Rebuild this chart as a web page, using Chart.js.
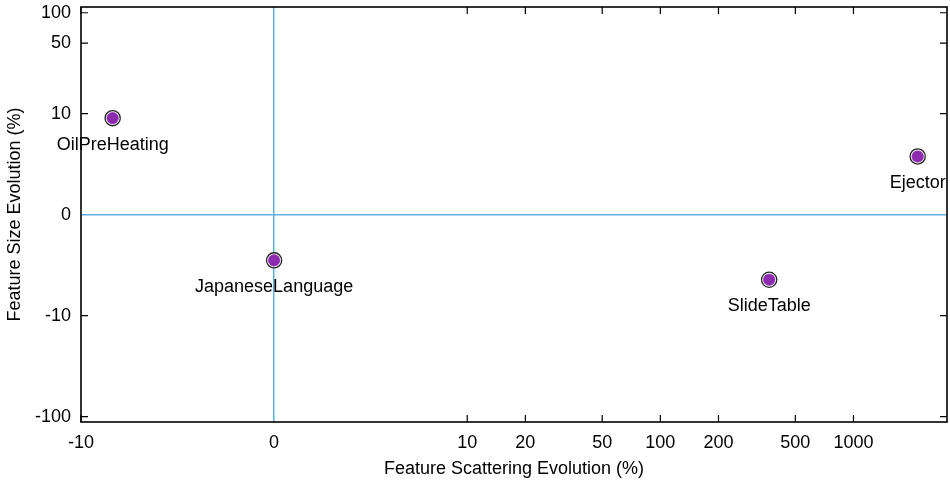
<!DOCTYPE html>
<html>
<head>
<meta charset="utf-8">
<script src="https://cdn.jsdelivr.net/npm/chart.js@4/dist/chart.umd.min.js"></script>
<style>
  body { margin: 0; background: #fff; }
  canvas { display: block; }
</style>
</head>
<body>
<canvas id="chart" width="950" height="482"></canvas>
<script>
// features and their evolution values (%)
const featureNames = ["OilPreHeating", "Ejector", "SlideTable", "JapaneseLanguage"];
const scatteringEvolution = [-8.36, 2150, 366, 0];
const sizeEvolution = [9.56, 5.77, -6.44, -4.52];

const xTickValues = [-10, 0, 10, 20, 50, 100, 200, 500, 1000];
const yTickValues = [-100, -10, 0, 10, 50, 100];
const xRange = [-10, 3050];
const yRange = [-113, 114];

// symmetric log: linear inside [-10, 10], log10 outside
function symlog(v) {
  if (Math.abs(v) <= 10) return v / 10;
  return Math.sign(v) * Math.log10(Math.abs(v));
}

function makePoints() {
  return featureNames.map((n, i) => ({
    x: symlog(scatteringEvolution[i]),
    y: symlog(sizeEvolution[i]),
  }));
}

const FONT = "'Liberation Sans', Arial, Helvetica, sans-serif";
const FONT_SIZE = 18;
const ZERO_LINE = "#62b0dc";
const PURPLE = "#8c2bb0";

const frame = {
  id: "frame",
  afterDraw(chart) {
    const ctx = chart.ctx;
    const a = chart.chartArea;
    const xs = chart.scales.x, ys = chart.scales.y;
    ctx.save();
    ctx.strokeStyle = "#000";
    ctx.lineWidth = 1.2;
    ctx.beginPath();
    xTickValues.forEach((v) => {
      if (v === 0) return;
      const px = xs.getPixelForValue(symlog(v));
      ctx.moveTo(px, a.bottom); ctx.lineTo(px, a.bottom - 7);
      ctx.moveTo(px, a.top); ctx.lineTo(px, a.top + 7);
    });
    yTickValues.forEach((v) => {
      if (v === 0) return;
      const py = ys.getPixelForValue(symlog(v));
      ctx.moveTo(a.left, py); ctx.lineTo(a.left + 7, py);
      ctx.moveTo(a.right, py); ctx.lineTo(a.right - 7, py);
    });
    ctx.stroke();
    ctx.lineWidth = 1.6;
    ctx.strokeRect(a.left, a.top, a.right - a.left, a.bottom - a.top);
    ctx.restore();
  },
};

const pointLabels = {
  id: "pointLabels",
  afterDatasetsDraw(chart) {
    const ctx = chart.ctx;
    const meta = chart.getDatasetMeta(0);
    ctx.save();
    ctx.font = FONT_SIZE + "px " + FONT;
    ctx.fillStyle = "#000";
    ctx.textAlign = "center";
    ctx.textBaseline = "middle";
    meta.data.forEach((pt, i) => {
      ctx.fillText(featureNames[i], pt.x, pt.y + 26.5);
    });
    ctx.restore();
  },
};

new Chart(document.getElementById("chart"), {
  type: "scatter",
  data: {
    datasets: [
      // inner purple dot (index 0 is painted last, on top)
      {
        data: makePoints(),
        pointRadius: 5.8,
        pointBackgroundColor: PURPLE,
        pointBorderColor: PURPLE,
        pointBorderWidth: 0.5,
      },
      // outer black ring with white gap
      {
        data: makePoints(),
        pointRadius: 7.6,
        pointBackgroundColor: "#fff",
        pointBorderColor: "#222",
        pointBorderWidth: 1.3,
      },
    ],
  },
  options: {
    responsive: false,
    animation: false,
    layout: { autoPadding: false, padding: { top: 7, right: 3, left: 0, bottom: 0 } },
    plugins: {
      legend: { display: false },
      tooltip: { enabled: false },
    },
    scales: {
      x: {
        type: "linear",
        min: symlog(xRange[0]),
        max: symlog(xRange[1]),
        afterBuildTicks: (s) => { s.ticks = xTickValues.map((v) => ({ value: symlog(v) })); },
        afterFit: (s) => { s.height = 60; s.paddingLeft = 0; s.paddingRight = 0; },
        ticks: {
          autoSkip: false,
          maxRotation: 0,
          padding: 10,
          color: "#000",
          font: { family: FONT, size: FONT_SIZE },
          callback: (val, i) => String(xTickValues[i]),
        },
        grid: {
          drawTicks: false,
          lineWidth: 1.5,
          color: (c) => (c.tick && c.tick.value === 0 ? ZERO_LINE : "rgba(0,0,0,0)"),
        },
        border: { display: false },
        title: {
          display: true,
          text: "Feature Scattering Evolution (%)",
          color: "#000",
          font: { family: FONT, size: FONT_SIZE },
          padding: { top: 0, bottom: 2 },
        },
      },
      y: {
        type: "linear",
        min: symlog(yRange[0]),
        max: symlog(yRange[1]),
        afterBuildTicks: (s) => { s.ticks = yTickValues.map((v) => ({ value: symlog(v) })); },
        afterFit: (s) => { s.width = 81; s.paddingTop = 0; s.paddingBottom = 0; },
        ticks: {
          autoSkip: false,
          padding: 10,
          color: "#000",
          font: { family: FONT, size: FONT_SIZE },
          callback: (val, i) => String(yTickValues[i]),
        },
        grid: {
          drawTicks: false,
          lineWidth: 1.5,
          color: (c) => (c.tick && c.tick.value === 0 ? ZERO_LINE : "rgba(0,0,0,0)"),
        },
        border: { display: false },
        title: {
          display: true,
          text: "Feature Size Evolution (%)",
          color: "#000",
          font: { family: FONT, size: FONT_SIZE },
          padding: { top: 4, bottom: 0 },
        },
      },
    },
  },
  plugins: [frame, pointLabels],
});
</script>
</body>
</html>
